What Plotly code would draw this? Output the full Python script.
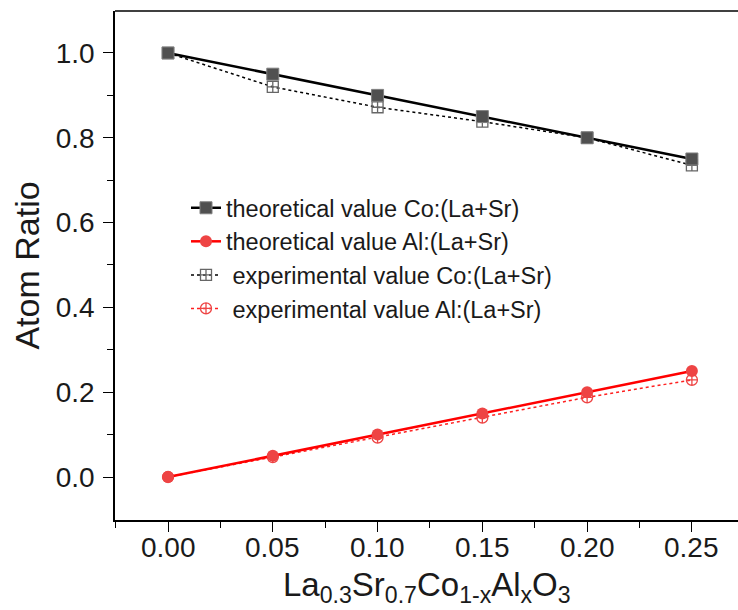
import plotly.graph_objects as go

x_vals = [0.00, 0.05, 0.10, 0.15, 0.20, 0.25]
theo_co = [1.00, 0.95, 0.90, 0.85, 0.80, 0.75]
theo_al = [0.00, 0.05, 0.10, 0.15, 0.20, 0.25]
exp_co = [1.00, 0.92, 0.872, 0.838, 0.800, 0.735]
exp_al = [0.00, 0.047, 0.093, 0.140, 0.188, 0.229]

x_ticktext = ["0.00", "0.05", "0.10", "0.15", "0.20", "0.25"]
y_tickvals = [0.0, 0.2, 0.4, 0.6, 0.8, 1.0]
y_ticktext = ["0.0", "0.2", "0.4", "0.6", "0.8", "1.0"]

names = [
    "theoretical value Co:(La+Sr)",
    "theoretical value Al:(La+Sr)",
    "\u00a0experimental value Co:(La+Sr)",
    "\u00a0experimental value Al:(La+Sr)",
]

fig = go.Figure()
fig.add_trace(go.Scatter(
    x=x_vals, y=exp_co, name=names[2], mode="lines+markers",
    line=dict(color="black", width=1.5, dash="dot"),
    marker=dict(symbol="square-cross-open", size=11, color="#666666", line=dict(width=1.3)),
    legendrank=3,
))
fig.add_trace(go.Scatter(
    x=x_vals, y=exp_al, name=names[3], mode="lines+markers",
    line=dict(color="#ff2020", width=1.5, dash="dot"),
    marker=dict(symbol="circle-cross-open", size=11, color="#ee4444", line=dict(width=1.3)),
    legendrank=4,
))
fig.add_trace(go.Scatter(
    x=x_vals, y=theo_co, name=names[0], mode="lines+markers",
    line=dict(color="black", width=2.5),
    marker=dict(symbol="square", size=12, color="#505050", line=dict(color="#808080", width=1)),
    legendrank=1,
))
fig.add_trace(go.Scatter(
    x=x_vals, y=theo_al, name=names[1], mode="lines+markers",
    line=dict(color="#ff0000", width=2.5),
    marker=dict(symbol="circle", size=12, color="#ee4444", line=dict(color="#ee4444", width=0)),
    legendrank=2,
))

fig.update_layout(
    width=738, height=610,
    margin=dict(l=115, r=0, t=11, b=90),
    paper_bgcolor="white", plot_bgcolor="white",
    font=dict(family="Liberation Sans, Arial, sans-serif", color="#1a1a1a", size=20),
    showlegend=True,
    legend=dict(
        x=(186 - 115) / (738 - 115), y=(520 - 186) / 509, xanchor="left", yanchor="top",
        bgcolor="rgba(0,0,0,0)", font=dict(size=23.5, color="#1a1a1a"),
        tracegroupgap=0, itemwidth=30,
    ),
    xaxis=dict(
        range=[-0.0253, 0.272], tickvals=x_vals, showticklabels=False,
        showline=True, linecolor="black", linewidth=1.5, mirror=False,
        ticks="outside", ticklen=10, tickwidth=1.3, tickcolor="black",
        minor=dict(tickvals=[-0.025, 0.025, 0.075, 0.125, 0.175, 0.225],
                   ticks="outside", ticklen=6, tickwidth=1.2, tickcolor="black"),
        showgrid=False, zeroline=False,
    ),
    yaxis=dict(
        range=[-0.1014, 1.099], tickvals=y_tickvals, ticktext=y_ticktext,
        showline=True, linecolor="black", linewidth=1.5, mirror=False,
        ticks="outside", ticklen=10, tickwidth=1.3, tickcolor="black",
        minor=dict(tickvals=[0.1, 0.3, 0.5, 0.7, 0.9],
                   ticks="outside", ticklen=6, tickwidth=1.2, tickcolor="black"),
        showgrid=False, zeroline=False, ticklabelstandoff=3,
        tickfont=dict(size=28, color="#1a1a1a"),
        title=dict(text="Atom Ratio", font=dict(size=34, color="#1a1a1a"), standoff=6),
    ),
)
# x tick labels (placed on the x scale)
for xv, lab in zip(x_vals, x_ticktext):
    fig.add_annotation(
        text=lab, xref="x", yref="paper", x=xv, y=-(530 - 520) / 509,
        xanchor="center", yanchor="top", showarrow=False,
        font=dict(size=28, color="#1a1a1a"),
    )
# x-axis title
fig.add_annotation(
    text="La<sub>0.3</sub>Sr<sub>0.7</sub>Co<sub>1-x</sub>Al<sub>x</sub>O<sub>3</sub>",
    xref="paper", yref="paper", x=0.5, y=-(564 - 520) / 509,
    xanchor="center", yanchor="top", showarrow=False,
    font=dict(size=33, color="#1a1a1a"),
)
# top border line
fig.add_shape(type="line", xref="paper", yref="paper", x0=0, x1=1, y0=1, y1=1,
              line=dict(color="black", width=1.5))

fig.write_html("out.html")
